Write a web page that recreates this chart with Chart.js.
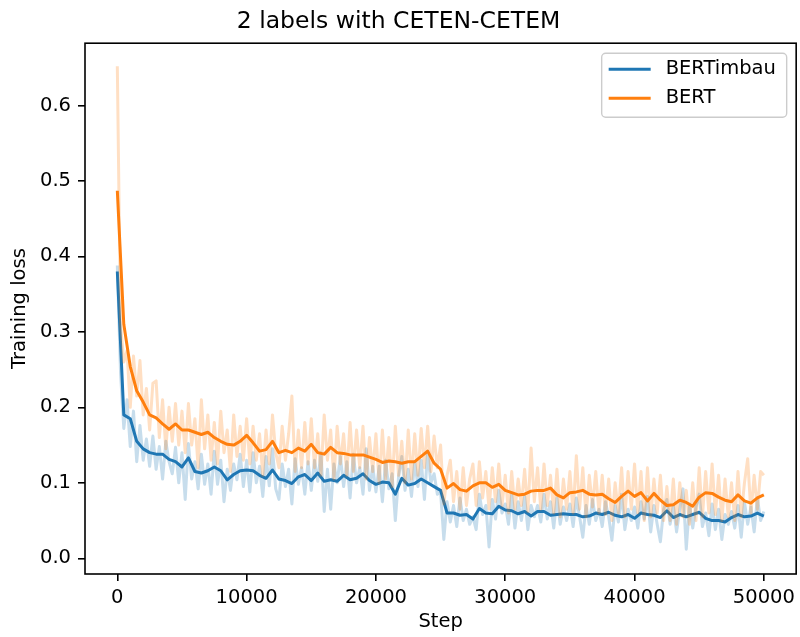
<!DOCTYPE html>
<html>
<head>
<meta charset="utf-8">
<script src="https://cdn.jsdelivr.net/npm/chart.js@4.4.0/dist/chart.umd.min.js"></script>
<style>
  body { margin: 0; background: #fff; }
</style>
</head>
<body>
<canvas id="lossChart" width="800" height="637"></canvas>
<script>
// Raw training loss, one value every 250 steps (0 .. 50000)
const RAW_STEP = 250;
const rawBertimbau = [
  0.388, 0.245, 0.172, 0.21, 0.148, 0.195, 0.128, 0.176, 0.13, 0.158,
  0.122, 0.162, 0.118, 0.148, 0.105, 0.155, 0.128, 0.112, 0.147, 0.1,
  0.14, 0.078, 0.152, 0.105, 0.128, 0.092, 0.138, 0.098, 0.125, 0.085,
  0.142, 0.098, 0.13, 0.075, 0.118, 0.09, 0.125, 0.104, 0.138, 0.095,
  0.13, 0.088, 0.14, 0.1, 0.122, 0.082, 0.135, 0.096, 0.145, 0.092,
  0.078, 0.125, 0.095, 0.118, 0.072, 0.132, 0.098, 0.12, 0.085, 0.128,
  0.09, 0.13, 0.102, 0.14, 0.062, 0.118, 0.065, 0.125, 0.1, 0.135,
  0.095, 0.128, 0.08, 0.138, 0.1, 0.12, 0.085, 0.145, 0.09, 0.122,
  0.088, 0.122, 0.075, 0.13, 0.092, 0.112, 0.05, 0.108, 0.135, 0.09,
  0.118, 0.082, 0.128, 0.095, 0.13, 0.078, 0.142, 0.1, 0.112, 0.085,
  0.088, 0.025, 0.075, 0.048, 0.07, 0.042, 0.08, 0.05, 0.065, 0.045,
  0.055, 0.038, 0.085, 0.058, 0.07, 0.015, 0.078, 0.052, 0.09, 0.06,
  0.072, 0.045, 0.085, 0.04, 0.075, 0.05, 0.082, 0.038, 0.07, 0.055,
  0.07, 0.048, 0.085, 0.052, 0.075, 0.04, 0.08, 0.045, 0.068, 0.05,
  0.072, 0.042, 0.08, 0.055, 0.028, 0.07, 0.045, 0.078, 0.05, 0.065,
  0.042, 0.075, 0.055, 0.024, 0.07, 0.048, 0.085, 0.038, 0.065, 0.05,
  0.068, 0.04, 0.075, 0.052, 0.082, 0.035, 0.07, 0.045, 0.022, 0.065,
  0.078, 0.045, 0.07, 0.035, 0.065, 0.092, 0.012, 0.072, 0.04, 0.068,
  0.085, 0.042, 0.06, 0.03, 0.072, 0.038, 0.065, 0.025, 0.058, 0.045,
  0.062, 0.04, 0.07, 0.028, 0.075, 0.045, 0.068, 0.035, 0.08, 0.05,
  0.062
];
const rawBert = [
  0.652, 0.31, 0.26, 0.275, 0.2, 0.268, 0.215, 0.262, 0.19, 0.225,
  0.17, 0.232, 0.235, 0.16, 0.21, 0.145, 0.2, 0.155, 0.205, 0.15,
  0.195, 0.14, 0.205, 0.15, 0.185, 0.12, 0.21, 0.145, 0.19, 0.13,
  0.18, 0.125, 0.195, 0.14, 0.17, 0.115, 0.19, 0.135, 0.175, 0.13,
  0.185, 0.125, 0.175, 0.13, 0.165, 0.11, 0.17, 0.125, 0.19, 0.14,
  0.12, 0.175, 0.13, 0.165, 0.215, 0.115, 0.17, 0.12, 0.18, 0.125,
  0.185, 0.12, 0.165, 0.11, 0.19, 0.13, 0.17, 0.105, 0.175, 0.125,
  0.165, 0.11, 0.18, 0.115, 0.17, 0.12, 0.175, 0.105, 0.16, 0.115,
  0.165, 0.1, 0.17, 0.105, 0.16, 0.095, 0.175, 0.11, 0.155, 0.1,
  0.17, 0.105, 0.165, 0.11, 0.172, 0.12, 0.175, 0.115, 0.162, 0.12,
  0.15, 0.072, 0.11, 0.13, 0.075, 0.115, 0.065, 0.12, 0.07, 0.105,
  0.125, 0.07, 0.128, 0.08, 0.115, 0.065, 0.12, 0.075, 0.125, 0.07,
  0.11, 0.06, 0.115, 0.065, 0.105, 0.07, 0.118, 0.062, 0.146, 0.075,
  0.12, 0.065, 0.125, 0.07, 0.11, 0.06, 0.118, 0.055, 0.105, 0.065,
  0.115, 0.06, 0.136, 0.065, 0.12, 0.055, 0.11, 0.068, 0.115, 0.06,
  0.11, 0.058, 0.105, 0.05, 0.1, 0.06, 0.12, 0.055, 0.115, 0.065,
  0.125, 0.06, 0.115, 0.05, 0.12, 0.055, 0.105, 0.06, 0.11, 0.05,
  0.095, 0.05, 0.105, 0.045, 0.1, 0.055, 0.09, 0.045, 0.1, 0.05,
  0.12, 0.055, 0.115, 0.06, 0.125, 0.058, 0.11, 0.05, 0.105, 0.055,
  0.1, 0.05, 0.115, 0.055, 0.1, 0.132, 0.06, 0.11, 0.065, 0.115,
  0.11
];

// Smoothed loss, one value every 500 steps
const SMOOTH_STEP = 500;
const smoothBertimbau = [
  0.38, 0.19, 0.185, 0.155, 0.145, 0.14, 0.138, 0.138, 0.131, 0.128,
  0.121, 0.133, 0.115, 0.113, 0.116, 0.121, 0.116, 0.104, 0.111, 0.116,
  0.117, 0.116, 0.11, 0.106, 0.117, 0.105, 0.103, 0.099, 0.108, 0.111,
  0.103, 0.113, 0.102, 0.104, 0.102, 0.11, 0.104, 0.106, 0.112, 0.103,
  0.098, 0.101, 0.1, 0.085, 0.106, 0.097, 0.099, 0.105, 0.1, 0.095,
  0.09, 0.06, 0.06, 0.057, 0.058, 0.052, 0.066, 0.06, 0.059, 0.069,
  0.064, 0.063, 0.059, 0.062, 0.056, 0.062, 0.062, 0.057, 0.058, 0.059,
  0.058, 0.058, 0.055, 0.056, 0.06, 0.058, 0.061, 0.057, 0.055, 0.058,
  0.053, 0.06, 0.058, 0.057, 0.054, 0.063, 0.054, 0.058, 0.055, 0.058,
  0.061, 0.053, 0.05, 0.05, 0.048, 0.054, 0.058, 0.055, 0.056, 0.06,
  0.056
];
const smoothBert = [
  0.487, 0.31, 0.254, 0.222, 0.207, 0.19, 0.186, 0.178, 0.171, 0.178,
  0.17, 0.17, 0.167, 0.164, 0.167, 0.16, 0.155, 0.151, 0.15, 0.155,
  0.163, 0.153, 0.142, 0.144, 0.155, 0.14, 0.143, 0.14, 0.146, 0.142,
  0.151, 0.14, 0.138, 0.147, 0.14, 0.139, 0.137, 0.137, 0.137, 0.134,
  0.131, 0.127, 0.129, 0.128, 0.126, 0.128, 0.128, 0.135, 0.142, 0.126,
  0.118, 0.093, 0.099, 0.091, 0.089, 0.096, 0.1, 0.1, 0.094, 0.098,
  0.09, 0.087, 0.084, 0.085, 0.089, 0.09, 0.09, 0.093, 0.084, 0.08,
  0.087, 0.088, 0.09, 0.085, 0.084, 0.085, 0.079, 0.074, 0.082, 0.089,
  0.082, 0.087, 0.076, 0.086, 0.077, 0.07, 0.071, 0.077, 0.074, 0.069,
  0.081, 0.087, 0.086, 0.081, 0.077, 0.075, 0.084, 0.076, 0.073, 0.08,
  0.084
];

const seriesNames = ["BERTimbau", "BERT"];
const xTicks = [0, 10000, 20000, 30000, 40000, 50000];
const yTicks = [0.0, 0.1, 0.2, 0.3, 0.4, 0.5, 0.6];

const BLUE = "#1f77b4";
const ORANGE = "#ff7f0e";
const FONT = "DejaVu Sans";

function toPoints(values, step) {
  return values.map((v, i) => ({ x: i * step, y: v }));
}

// Box around the plot, like matplotlib spines
const framePlugin = {
  id: "frame",
  afterDatasetsDraw(chart) {
    const { ctx, chartArea: a } = chart;
    ctx.save();
    ctx.strokeStyle = "#000";
    ctx.lineWidth = 1.6;
    ctx.strokeRect(a.left, a.top, a.right - a.left, a.bottom - a.top);
    ctx.restore();
  }
};

// Legend box in the upper right corner of the plot
const legendPlugin = {
  id: "cornerLegend",
  afterDraw(chart) {
    const { ctx, chartArea: a } = chart;
    const items = chart.data.datasets
      .filter(d => d.legendIndex !== undefined)
      .sort((p, q) => p.legendIndex - q.legendIndex);
    const boxW = 185, rowH = 29;
    const boxH = 12 + rowH * items.length - 6;
    const x0 = a.right - 9.5 - boxW;
    const y0 = a.top + 10;
    ctx.save();
    ctx.beginPath();
    ctx.roundRect(x0, y0, boxW, boxH, 4);
    ctx.fillStyle = "rgba(255,255,255,0.8)";
    ctx.fill();
    ctx.strokeStyle = "#cccccc";
    ctx.lineWidth = 1.4;
    ctx.stroke();
    ctx.font = "19.5px '" + FONT + "'";
    ctx.textBaseline = "middle";
    ctx.fillStyle = "#000";
    items.forEach((d, i) => {
      const y = y0 + 16 + i * rowH;
      ctx.beginPath();
      ctx.moveTo(x0 + 7, y);
      ctx.lineTo(x0 + 49, y);
      ctx.strokeStyle = d.borderColor;
      ctx.lineWidth = 3;
      ctx.stroke();
      ctx.fillText(d.label, x0 + 64, y);
    });
    ctx.restore();
  }
};

const ctx = document.getElementById("lossChart").getContext("2d");
new Chart(ctx, {
  type: "line",
  data: {
    datasets: [
      {
        label: seriesNames[1], legendIndex: 1, order: 0,
        data: toPoints(smoothBert, SMOOTH_STEP),
        borderColor: ORANGE, borderWidth: 3
      },
      {
        label: seriesNames[1] + " raw", order: 1,
        data: toPoints(rawBert, RAW_STEP),
        borderColor: "rgba(255,127,14,0.25)", borderWidth: 3
      },
      {
        label: seriesNames[0], legendIndex: 0, order: 2,
        data: toPoints(smoothBertimbau, SMOOTH_STEP),
        borderColor: BLUE, borderWidth: 3
      },
      {
        label: seriesNames[0] + " raw", order: 3,
        data: toPoints(rawBertimbau, RAW_STEP),
        borderColor: "rgba(31,119,180,0.25)", borderWidth: 3
      }
    ].map(d => Object.assign({ pointRadius: 0, tension: 0, fill: false, borderJoinStyle: "round" }, d))
  },
  options: {
    responsive: false,
    animation: false,
    layout: { padding: { top: 0, right: 3, bottom: 0, left: 0 } },
    plugins: {
      legend: { display: false },
      tooltip: { enabled: false },
      title: {
        display: true,
        text: "2 labels with CETEN-CETEM",
        color: "#000",
        font: { family: FONT, size: 23.5, weight: "normal" },
        padding: { top: 8, bottom: 7 }
      }
    },
    scales: {
      x: {
        type: "linear",
        min: -2500,
        max: 52500,
        afterFit: s => { s.height = 63; },
        afterBuildTicks: s => { s.ticks = xTicks.map(v => ({ value: v })); },
        border: { display: false },
        grid: { drawOnChartArea: false, drawTicks: true, tickLength: 7, color: "#000", lineWidth: 1.6 },
        ticks: {
          autoSkip: false,
          padding: 5,
          color: "#000",
          maxRotation: 0,
          font: { family: FONT, size: 19.5 },
          callback: v => String(v)
        },
        title: {
          display: true,
          text: "Step",
          color: "#000",
          font: { family: FONT, size: 19.5 },
          padding: { top: 0, bottom: 3 }
        }
      },
      y: {
        min: -0.0208,
        max: 0.6825,
        afterFit: s => { s.width = 85; },
        afterBuildTicks: s => { s.ticks = yTicks.map(v => ({ value: v })); },
        border: { display: false },
        grid: { drawOnChartArea: false, drawTicks: true, tickLength: 7, color: "#000", lineWidth: 1.6 },
        ticks: {
          autoSkip: false,
          padding: 7,
          color: "#000",
          font: { family: FONT, size: 19.5 },
          callback: v => v.toFixed(1)
        },
        title: {
          display: true,
          text: "Training loss",
          color: "#000",
          font: { family: FONT, size: 19.5 },
          padding: { top: 8, bottom: 0 }
        }
      }
    }
  },
  plugins: [framePlugin, legendPlugin]
});
</script>
</body>
</html>
